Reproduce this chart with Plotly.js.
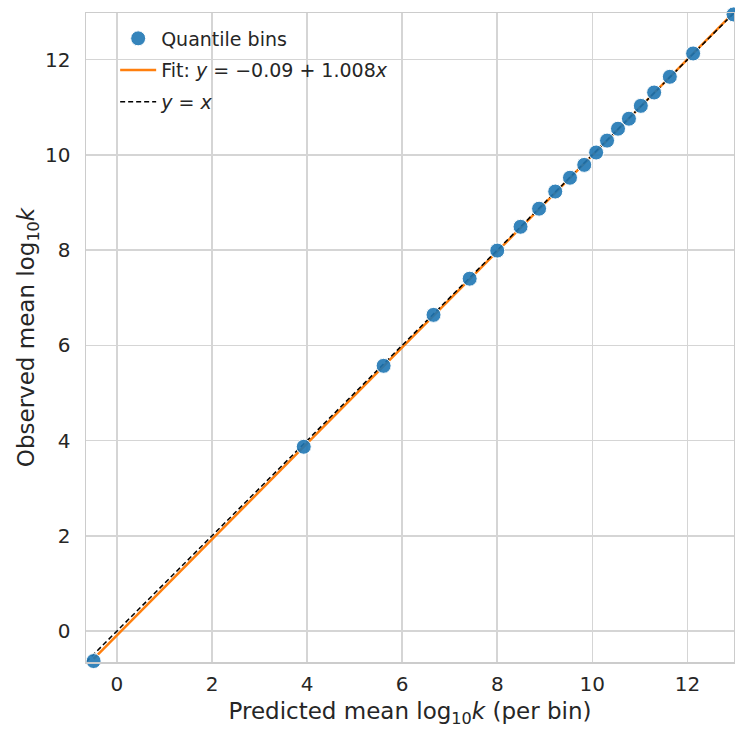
<!DOCTYPE html>
<html>
<head>
<meta charset="utf-8">
<script src="https://cdn.plot.ly/plotly-3.0.1.min.js"></script>
<style>html,body{margin:0;padding:0;background:#fff}#chart{width:735px;height:729px}</style>
</head>
<body>
<div id="chart"></div>
<script>
const predicted = [-0.49, 3.93, 5.61, 6.66, 7.42, 8.00, 8.49, 8.88, 9.22, 9.53, 9.83, 10.08, 10.31, 10.54, 10.77, 11.02, 11.30, 11.63, 12.12, 12.97];
const observed  = [-0.63, 3.87, 5.57, 6.64, 7.40, 7.99, 8.49, 8.87, 9.23, 9.52, 9.79, 10.05, 10.30, 10.55, 10.76, 11.03, 11.31, 11.64, 12.13, 12.95];
const fitIntercept = -0.09;
const fitSlope = 1.008;
const tickVals = [0, 2, 4, 6, 8, 10, 12];

const lo = Math.min(Math.min(...predicted), Math.min(...observed)) - 0.02;
const hi = Math.max(Math.max(...predicted), Math.max(...observed)) + 0.01;
const xmin = Math.min(...predicted), xmax = Math.max(...predicted);

const font = "DejaVu Sans, sans-serif";
const fitTrace = {
  x: [xmin, xmax], y: [fitIntercept + fitSlope * xmin, fitIntercept + fitSlope * xmax],
  mode: 'lines', type: 'scatter', legendrank: 2, legendgroup: 'b',
  name: 'Fit: <i>y</i> = −0.09 + 1.008<i>x</i>',
  line: {color: '#ff7f0e', width: 2.5}
};
const idTrace = {
  x: [lo, hi], y: [lo, hi], mode: 'lines', type: 'scatter', legendrank: 3, legendgroup: 'c',
  name: '<i>y</i> = <i>x</i>',
  line: {color: '#000000', width: 1.5, dash: '5px,3px'}
};
const binTrace = {
  x: predicted, y: observed, mode: 'markers', type: 'scatter', legendrank: 1, legendgroup: 'a',
  name: 'Quantile bins',
  marker: {size: 15, color: 'rgba(31,119,180,0.9)', line: {color: '#ffffff', width: 1}},
  cliponaxis: false
};

const axisCommon = {
  range: [lo, hi], tickvals: tickVals, showgrid: true, gridcolor: '#d5d5d5', gridwidth: 1.5,
  zeroline: false, showline: true, linecolor: '#cccccc', linewidth: 1.5, mirror: true,
  ticks: '', tickfont: {family: font, size: 20, color: '#262626'}
};

const layout = {
  width: 735, height: 729,
  margin: {l: 86, r: 1, t: 13, b: 67},
  paper_bgcolor: '#ffffff', plot_bgcolor: '#ffffff',
  font: {family: font, color: '#262626'},
  showlegend: true,
  legend: {
    x: 0.045, y: 0.99, xanchor: 'left', yanchor: 'top',
    bgcolor: 'rgba(255,255,255,0)', borderwidth: 0,
    font: {family: font, size: 19, color: '#262626'},
    traceorder: 'grouped', tracegroupgap: 4, itemwidth: 36
  },
  xaxis: Object.assign({}, axisCommon, {
    ticklabelstandoff: 3,
    title: {text: 'Predicted mean log<sub>10</sub><i>k</i> (per bin)', font: {family: font, size: 23, color: '#262626'}, standoff: 8}
  }),
  yaxis: Object.assign({}, axisCommon, {
    ticklabelstandoff: 10,
    title: {text: 'Observed mean log<sub>10</sub><i>k</i>', font: {family: font, size: 23, color: '#262626'}, standoff: 4}
  })
};

Plotly.newPlot('chart', [fitTrace, idTrace, binTrace], layout, {displayModeBar: false, staticPlot: true});
</script>
</body>
</html>
